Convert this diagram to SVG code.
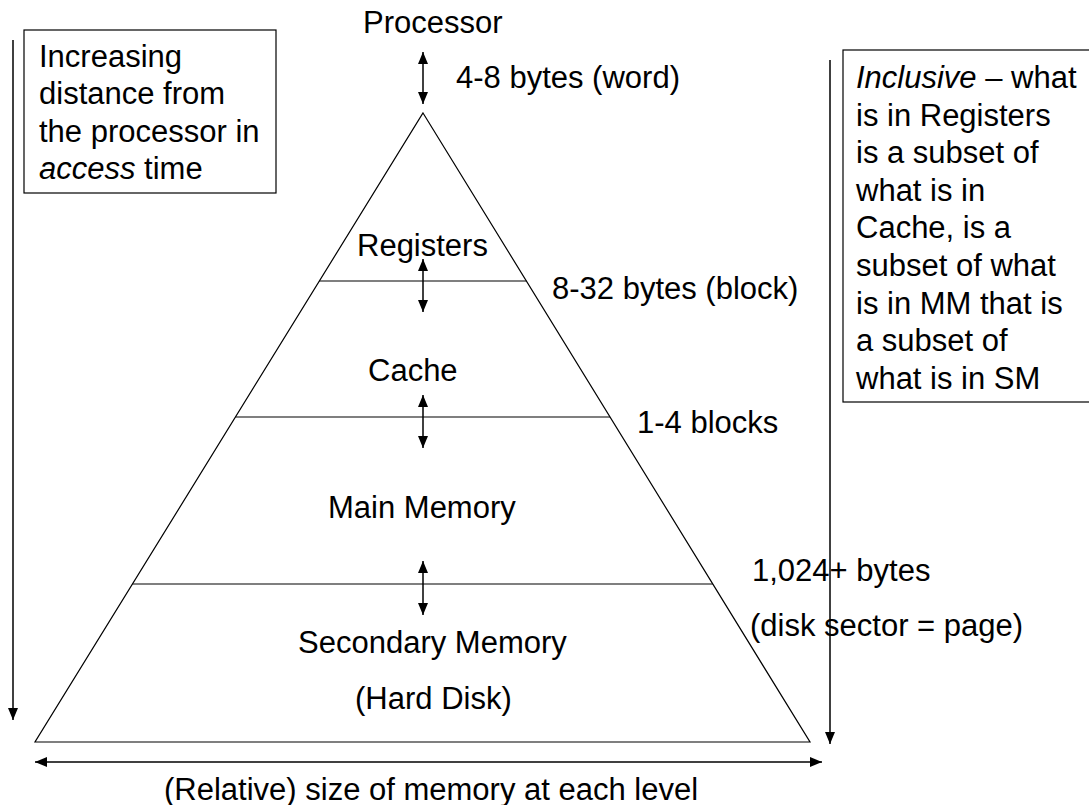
<svg xmlns="http://www.w3.org/2000/svg" width="1089" height="805" viewBox="0 0 1089 805">
  <style>
    text { font-family: "Liberation Sans", Arial, sans-serif; font-size: 31px; fill: #000; }
    .ln { stroke: #000; stroke-width: 1.2; fill: none; }
    .box { stroke: #000; stroke-width: 1.2; fill: #fff; }
    .arr { stroke: #000; stroke-width: 1.5; fill: none; }
  </style>
  <defs>
    <marker id="ah" markerUnits="userSpaceOnUse" markerWidth="12" markerHeight="10" refX="12" refY="5" orient="auto-start-reverse">
      <path d="M0,0 L12,5 L0,10 z" fill="#000"/>
    </marker>
  </defs>
  <rect width="1089" height="805" fill="#fff"/>

  <g id="pyramid">
    <polygon class="ln" points="423,113 810,742 35,742"/>
    <line class="ln" x1="319.4" y1="281" x2="526.4" y2="281"/>
    <line class="ln" x1="235.5" y1="417" x2="610" y2="417"/>
    <line class="ln" x1="132.5" y1="584" x2="712.8" y2="584"/>
  </g>

  <g id="labels-levels">
    <text x="363" y="33">Processor</text>
    <text x="357" y="256">Registers</text>
    <text x="368" y="381">Cache</text>
    <text x="328" y="518">Main Memory</text>
    <text x="298" y="653">Secondary Memory</text>
    <text x="355" y="709">(Hard Disk)</text>
  </g>

  <g id="labels-transfer">
    <text x="456" y="88">4-8 bytes (word)</text>
    <text x="552" y="299">8-32 bytes (block)</text>
    <text x="637" y="433">1-4 blocks</text>
    <text x="752" y="581">1,024+ bytes</text>
    <text x="750" y="636">(disk sector = page)</text>
  </g>

  <g id="box-left">
    <rect class="box" x="24" y="30" width="252" height="163"/>
    <text x="39" y="67">Increasing</text>
    <text x="39" y="104">distance from</text>
    <text x="39" y="142">the processor in</text>
    <text x="39" y="179"><tspan font-style="italic">access</tspan> time</text>
  </g>

  <g id="box-right">
    <rect class="box" x="843" y="50" width="250" height="352"/>
    <text x="856" y="88"><tspan font-style="italic">Inclusive</tspan> – what</text>
    <text x="856" y="125.6">is in Registers</text>
    <text x="856" y="163.2">is a subset of</text>
    <text x="856" y="200.8">what is in</text>
    <text x="856" y="238.4">Cache, is a</text>
    <text x="856" y="276">subset of what</text>
    <text x="856" y="313.6">is in MM that is</text>
    <text x="856" y="351.2">a subset of</text>
    <text x="856" y="388.8">what is in SM</text>
  </g>

  <g id="connectors">
    <line class="arr" x1="423" y1="52" x2="423" y2="104" marker-start="url(#ah)" marker-end="url(#ah)"/>
    <line class="arr" x1="423" y1="259" x2="423" y2="312" marker-start="url(#ah)" marker-end="url(#ah)"/>
    <line class="arr" x1="423" y1="395" x2="423" y2="448" marker-start="url(#ah)" marker-end="url(#ah)"/>
    <line class="arr" x1="423" y1="561" x2="423" y2="615" marker-start="url(#ah)" marker-end="url(#ah)"/>
    <line class="arr" x1="13" y1="40" x2="13" y2="720" marker-end="url(#ah)"/>
    <line class="arr" x1="830" y1="60" x2="830" y2="744" marker-end="url(#ah)"/>
    <line class="arr" x1="35" y1="762" x2="822" y2="762" marker-start="url(#ah)" marker-end="url(#ah)"/>
  </g>

  <g id="caption">
    <text x="164" y="800">(Relative) size of memory at each level</text>
  </g>
</svg>
